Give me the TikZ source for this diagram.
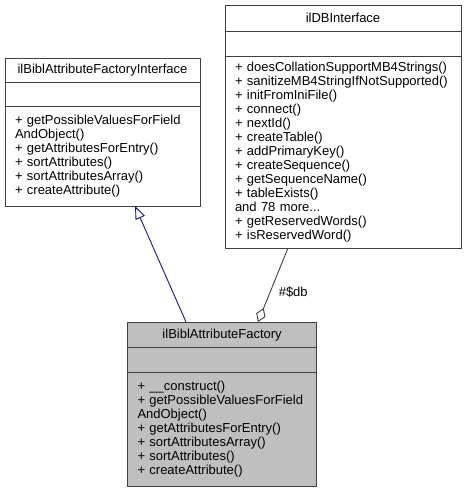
\documentclass[tikz,border=0pt]{standalone}
\usepackage{fontspec}
\setmainfont{Liberation Sans}
\usetikzlibrary{arrows.meta,positioning,calc}
\definecolor{navyedge}{HTML}{191970}
\definecolor{darkedge}{HTML}{404040}
\definecolor{curfill}{HTML}{BFBFBF}
\tikzset{
  cls/.style={rectangle, draw=darkedge, line width=0.9pt, fill=white, inner xsep=10pt, inner ysep=0pt, outer sep=0pt, anchor=north, font=\fontsize{13}{14}\selectfont},
  cur/.style={cls, fill=curfill},
  ops/.style={align=left, text width=#1},
  gen/.style={-{Triangle[fill=white, length=13pt, width=10pt]}, navyedge, line width=0.9pt},
  agg/.style={-{Diamond[fill=white, length=15pt, width=10pt]}, darkedge, line width=0.9pt},
  lbl/.style={font=\fontsize{13}{14}\selectfont, text=black}
}
\begin{document}
\begin{tikzpicture}[x=1pt, y=-1pt]
    \useasboundingbox (0,0) rectangle (466,492);

    % LEFT: interface class
    \node[cls, minimum width=195pt, minimum height=24.5pt] (ift) at (102.5, 58) {ilBiblAttributeFactoryInterface};
    \node[cls, minimum width=195pt, minimum height=24pt, below=0pt of ift] (ifa) {};
    \node[cls, ops=175pt, minimum height=99.5pt, below=0pt of ifa] (ifm) {+ getPossibleValuesForField\\AndObject()\\+ getAttributesForEntry()\\+ sortAttributes()\\+ sortAttributesArray()\\+ createAttribute()};

    % RIGHT: database interface
    \node[cls, minimum width=236pt, minimum height=26.7pt] (dbt) at (343, 5) {ilDBInterface};
    \node[cls, minimum width=236pt, minimum height=25pt, below=0pt of dbt] (dba) {};
    \node[cls, ops=216pt, minimum height=191.3pt, below=0pt of dba] (dbm) {+ doesCollationSupportMB4Strings()\\+ sanitizeMB4StringIfNotSupported()\\+ initFromIniFile()\\+ connect()\\+ nextId()\\+ createTable()\\+ addPrimaryKey()\\+ createSequence()\\+ getSequenceName()\\+ tableExists()\\and 78 more...\\+ getReservedWords()\\+ isReservedWord()};

    % BOTTOM: the factory itself
    \node[cur, minimum width=189.2pt, minimum height=25.7pt] (aft) at (222.1, 322) {ilBiblAttributeFactory};
    \node[cur, minimum width=189.2pt, minimum height=25pt, below=0pt of aft] (afa) {};
    \node[cur, ops=169.2pt, minimum height=113.3pt, below=0pt of afa] (afm) {+ \_\_construct()\\+ getPossibleValuesForField\\AndObject()\\+ getAttributesForEntry()\\+ sortAttributesArray()\\+ sortAttributes()\\+ createAttribute()};

    % Inheritance
    \draw[gen] ($(aft.north west)+(58.5,0)$) -- ($(ifm.south west)+(130,0)$);

    % Aggregation
    \draw[agg] ($(dbm.south west)+(63,0)$) -- node[lbl, pos=0.6, right=5pt] {\#\$db} ($(aft.north west)+(130.5,0)$);
\end{tikzpicture}
\end{document}
